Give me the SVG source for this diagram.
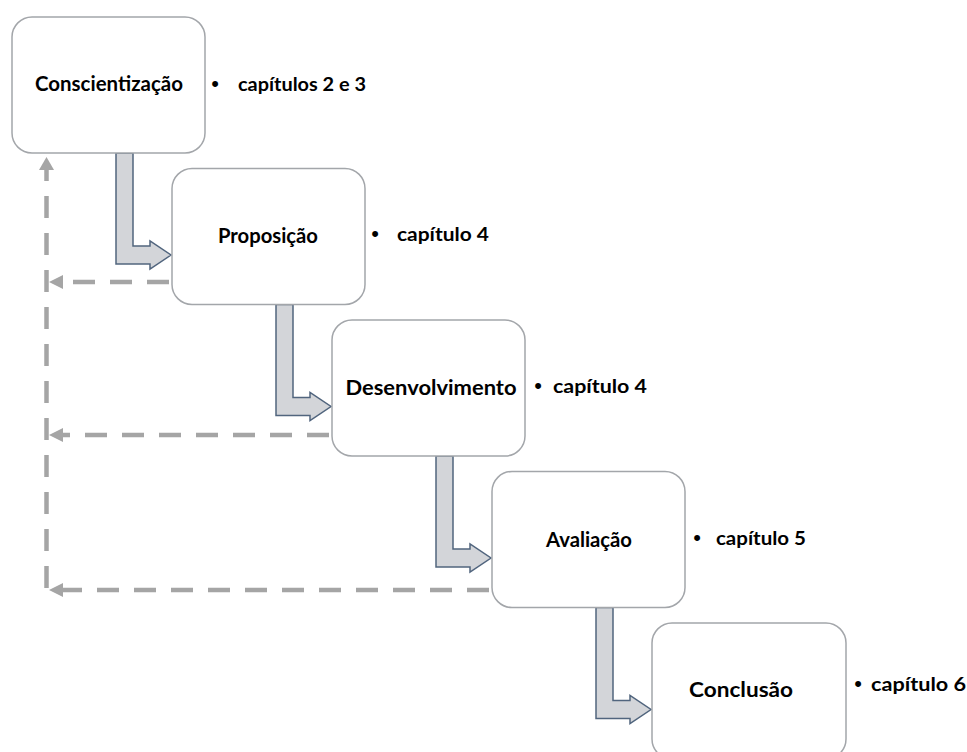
<svg xmlns="http://www.w3.org/2000/svg" width="967" height="752" viewBox="0 0 967 752">
  <defs>
    <style>
      .box { fill: #ffffff; stroke: #a3a6aa; stroke-width: 1.5; }
      .label { font-family: Lato, "Liberation Sans", sans-serif; font-weight: bold; font-size: 21px; fill: #000000; text-anchor: middle; }
      .note { font-family: Lato, "Liberation Sans", sans-serif; font-weight: bold; font-size: 19px; fill: #000000; }
      .dot { font-family: "Liberation Sans", sans-serif; font-size: 22px; fill: #000000; text-anchor: middle; }
      .step { fill: #d3d5d9; stroke: #51657e; stroke-width: 1.5; stroke-linejoin: miter; }
      .back { fill: none; stroke: #a5a5a5; stroke-width: 4.5; stroke-dasharray: 22 15; }
      .head { fill: #a5a5a5; }
    </style>
    <!-- bent block arrow, drawn once and repeated down the staircase -->
    <path id="bent" class="step" d="M116,153 L133,153 L133,246 L150,246 L150,241 L171,255 L150,269 L150,264 L116,264 Z"/>
  </defs>

  <g id="connectors">
    <use href="#bent"/>
    <use href="#bent" transform="translate(160,151.5)"/>
    <use href="#bent" transform="translate(320,303)"/>
    <use href="#bent" transform="translate(480,454.5)"/>

    <!-- feedback lines back to the first stage -->
    <line class="back" x1="46.5" y1="588" x2="46.5" y2="170"/>
    <polygon class="head" points="46.5,157 39,170 54,170"/>

    <line class="back" x1="169" y1="282" x2="63" y2="282"/>
    <polygon class="head" points="49,282 63,275 63,289"/>

    <line class="back" x1="329" y1="435" x2="63" y2="435"/>
    <polygon class="head" points="49,435 63,428 63,442"/>

    <line class="back" x1="489" y1="590" x2="63" y2="590"/>
    <polygon class="head" points="49,590 63,583 63,597"/>
  </g>

  <g id="conscientizacao">
    <rect class="box" x="12" y="17" width="193" height="136" rx="20"/>
    <text class="label" x="109" y="91" textLength="148" lengthAdjust="spacingAndGlyphs">Conscientização</text>
    <text class="dot" x="215" y="91">•</text>
    <text class="note" x="238" y="91" textLength="128" lengthAdjust="spacingAndGlyphs">capítulos 2 e 3</text>
  </g>

  <g id="proposicao">
    <rect class="box" x="172" y="168.5" width="193" height="136" rx="20"/>
    <text class="label" x="268" y="243" textLength="100" lengthAdjust="spacingAndGlyphs">Proposição</text>
    <text class="dot" x="375" y="241">•</text>
    <text class="note" x="397" y="241" textLength="92" lengthAdjust="spacingAndGlyphs">capítulo 4</text>
  </g>

  <g id="desenvolvimento">
    <rect class="box" x="332" y="320" width="193" height="136" rx="20"/>
    <text class="label" x="431" y="395" textLength="171" lengthAdjust="spacingAndGlyphs">Desenvolvimento</text>
    <text class="dot" x="538" y="393">•</text>
    <text class="note" x="553" y="393" textLength="94" lengthAdjust="spacingAndGlyphs">capítulo 4</text>
  </g>

  <g id="avaliacao">
    <rect class="box" x="492" y="471.5" width="193" height="136" rx="20"/>
    <text class="label" x="589" y="547" textLength="86" lengthAdjust="spacingAndGlyphs">Avaliação</text>
    <text class="dot" x="697" y="545">•</text>
    <text class="note" x="716" y="545" textLength="90" lengthAdjust="spacingAndGlyphs">capítulo 5</text>
  </g>

  <g id="conclusao">
    <rect class="box" x="652" y="623" width="194" height="136" rx="20"/>
    <text class="label" x="741" y="697" textLength="104" lengthAdjust="spacingAndGlyphs">Conclusão</text>
    <text class="dot" x="858" y="691">•</text>
    <text class="note" x="871" y="691" textLength="95" lengthAdjust="spacingAndGlyphs">capítulo 6</text>
  </g>
</svg>
